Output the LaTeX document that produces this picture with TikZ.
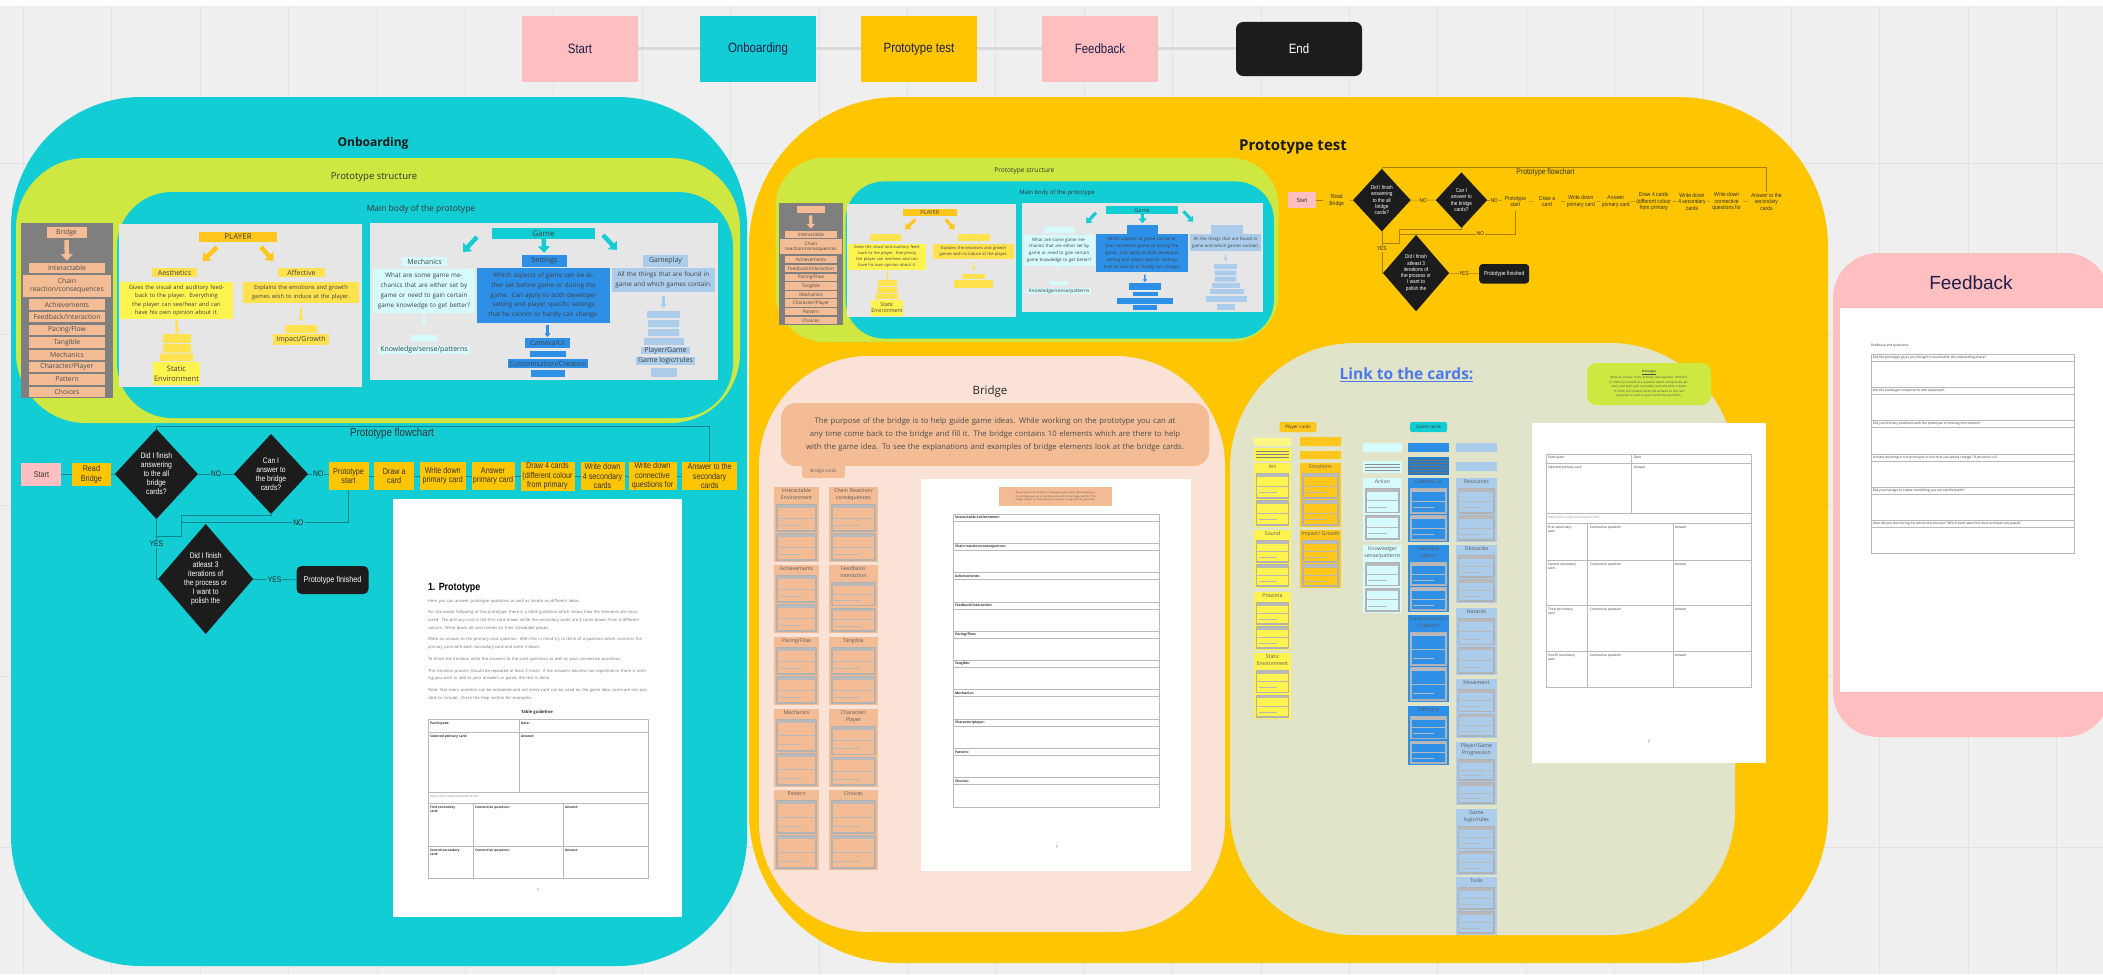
\documentclass[tikz,border=0pt]{standalone}
\usepackage{fontspec}
\setmainfont{Open Sans}
\newfontfamily\narrowfont[FakeStretch=0.85]{Liberation Sans}
\newfontfamily\arialfont{Liberation Sans}
\usetikzlibrary{arrows.meta,positioning,shapes.geometric}

\definecolor{canvas}{HTML}{EFEFEF}
\definecolor{gridline}{HTML}{E2E2E2}
\definecolor{navy}{HTML}{1E1E4C}
\definecolor{onbcyan}{HTML}{12CDD4}
\definecolor{testyel}{HTML}{FFC600}
\definecolor{startpink}{HTML}{FFBFC0}
\definecolor{endblack}{HTML}{1C1C1C}
\definecolor{lime}{HTML}{CEE741}
\definecolor{panelgray}{HTML}{E6E6E6}
\definecolor{bridgegray}{HTML}{7F7F7F}
\definecolor{salmon}{HTML}{F3BC95}
\definecolor{plgold}{HTML}{FFC61C}
\definecolor{pllabel}{HTML}{FFE24D}
\definecolor{plyellow}{HTML}{FFF44F}
\definecolor{mechcyan}{HTML}{D6FBFD}
\definecolor{setblue}{HTML}{2E8FE6}
\definecolor{playblue}{HTML}{ABCDEB}
\definecolor{peach}{HTML}{FAE3D6}
\definecolor{olive}{HTML}{E1E4C8}
\definecolor{linkblue}{HTML}{4C78EE}
\definecolor{txtdark}{HTML}{3A3A3A}

\newcommand\fs[2]{\fontsize{#1}{#2}\selectfont}
\newif\ifshowlbl
\showlbltrue
\newcommand\lbl[1]{\ifshowlbl#1\else\phantom{#1}\fi}
\def\sfac{1}

\tikzset{
  every node/.style={inner sep=0pt, outer sep=0pt, text=txtdark},
  legendbox/.style={fill=#1, text=navy, minimum width=116, minimum height=66, font=\narrowfont\fs{13.5}{16}},
  legendline/.style={draw=black!15, line width=3},
  rtitle/.style={font=\bfseries\fs{12}{14}, text=black!90},
  stitle/.style={font=\fs{9.5}{11}, text=black!80},
  item/.style={fill=salmon, minimum width=76, minimum height=10.5, font=\fs{6.8}{8}, text=black!70, align=center},
  tag/.style={fill=#1, align=center, font=\fs{7}{8.5}, text=black!75},
  desc/.style={fill=#1, align=center, font=\fs{5.8}{8.6}, text=black!75},
  fat/.style={draw=#1, line width={4.5*\sfac}, -{Triangle[width=0pt 2.6, length=0pt 1.5]}},
  thin/.style={draw=#1, line width={2.2*\sfac}, -{Triangle[width=0pt 2.6, length=0pt 1.6]}},
  fbox/.style={fill=testyel, align=center, font=\narrowfont\fs{8.5}{9.5}, text=black!80},
  decide/.style={diamond, fill=endblack},
  dtext/.style={text=white, align=center, font=\narrowfont\fs{8}{9}},
  flowtitle/.style={font=\narrowfont\fs{11.5}{13}, text=black!80},
  flowline/.style={draw=#1!65!black, line width={0.8*\sfac}},
  flowlbl/.style={fill=#1, inner sep=1pt, font=\narrowfont\fs{8}{9}, text=black!85},
  cardlbl/.style={anchor=north, align=center, font=\fs{5.2}{7}, text=black!65},
  tbl/.style={draw=gray!55, line width=0.8},
  cell/.style={anchor=north west, font=\fs{3.3}{4.2}, text=black!80, align=left},
}

% small document sketch inside a card
\newcommand\minidoc[5]{%
  \pgfmathsetmacro\mxa{#1}\pgfmathsetmacro\mya{#2}%
  \pgfmathsetmacro\mxb{#3}\pgfmathsetmacro\myb{#4}%
  \pgfmathsetmacro\mym{(\mya+\myb)/2}%
  \pgfmathsetmacro\myl{\mya+(\myb-\mya)*0.78}%
  \pgfmathsetmacro\mxl{\mxa+(\mxb-\mxa)*0.65}%
  \draw[gray!60, line width=1.1, fill=#5] (\mxa,\mya) rectangle (\mxb,\myb);
  \fill[gray!55] (\mxa,\mya) rectangle (\mxb,\mya+2.6);
  \draw[gray!55, line width=0.7] (\mxa,\mym) -- (\mxb,\mym);
  \draw[gray!55, line width=0.7] (\mxa+2,\myl) -- (\mxl,\myl);
}

% name, x1, y1, x2, y2, fill, label, label height
\newcommand\card[8]{%
  \fill[#6] (#2,#3) rectangle (#4,#5);
  \pgfmathsetmacro\cw{#4-#2-2}%
  \node[cardlbl, text width=\cw pt] (#1) at ({(#2+#4)/2},#3+1.5) {#7};
  \pgfmathsetmacro\ca{#3+#8}\pgfmathsetmacro\cb{#5-2}\pgfmathsetmacro\cm{(\ca+\cb)/2}%
  \minidoc{#2+3}{\ca}{#4-3}{\cm-1.5}{#6}%
  \minidoc{#2+3}{\cm+1.5}{#4-3}{\cb}{#6}%
}

% the structure block (drawn in onboarding coordinates)
\newcommand\protostructure[1]{%
  \fill[lime, rounded corners={70*\sfac}] (16,158) rectangle (740,423);
  \node[stitle] (#1title) at (374,177) {Prototype structure};
  \fill[onbcyan, rounded corners={55*\sfac}] (117,192) rectangle (733,418);
  \node[stitle, font=\fs{8.5}{10}] (#1maintitle) at (421,209) {Main body of the prototype};
  % bridge column
  \fill[bridgegray] (21,223) rectangle (113,398);
  \node[item, minimum width=40, minimum height=11] (#1bridge) at (66.5,232.5) {\lbl{Bridge}};
  \node[item, minimum width=88, minimum height=22] (#1chain) at (67,286) {Chain\\reaction/consequences};
  \foreach \nm/\txt/\y in {interact/Interactable/268, achieve/Achievements/304.5,
      feed/{Feedback/Interaction}/317, pacing/{Pacing/Flow}/330, tangible/Tangible/342.5,
      mech/Mechanics/355, char/{Character/Player}/367, pattern/Pattern/379.5, choices/Choices/392}
    \node[item] (#1\nm) at (67,\y) {\txt};
  \draw[fat=salmon, shorten <=2, shorten >=2] (#1bridge) -- (#1interact);
  % player panel
  \fill[panelgray] (119,224) rectangle (362,387);
  \node[tag=plgold, minimum width=78, minimum height=10, font=\fs{8}{9}] (#1player) at (238,237) {PLAYER};
  \node[tag=pllabel, minimum width=45, minimum height=9] (#1aesth) at (174.5,272.5) {\lbl{Aesthetics}};
  \node[desc=plyellow, text width=108pt, minimum width=113, minimum height=37] (#1aesthd) at (176.5,300.5)
    {Gives the visual and auditory feedback to the player. Everything the player can see/hear and can have his own opinion about it.};
  \node[tag=pllabel, minimum width=47, minimum height=9] (#1affect) at (301.5,272.5) {\lbl{Affective}};
  \node[desc=pllabel, text width=112pt, minimum width=116, minimum height=21] (#1affectd) at (301,292.5)
    {Explains the emotions and growth games wish to induce at the player.};
  \draw[fat=plgold] ([shift={(18,5)}]#1player.south west) -- ([shift={(28,-7)}]#1aesth.north);
  \draw[fat=plgold] ([shift={(-16,5)}]#1player.south east) -- ([shift={(-28,-7)}]#1affect.north);
  \node[fill=pllabel, minimum width=28, minimum height=8.5] (#1stack) at (177,338.5) {};
  \fill[pllabel] (163,344) rectangle (191,352.5) (160,353.5) rectangle (193,361);
  \node[tag=plyellow, minimum width=47, minimum height=23, font=\fs{7.5}{10}] (#1static) at (176.5,373.5) {Static\\Environment};
  \draw[thin=pllabel, shorten <=1, shorten >=1] (#1aesthd) -- (#1stack);
  \node[fill=pllabel, minimum width=32, minimum height=8] (#1impbar) at (301,329) {};
  \node[tag=pllabel, minimum width=56, minimum height=11] (#1impact) at (301,339.5) {\lbl{Impact/Growth}};
  \draw[thin=pllabel, shorten <=4, shorten >=4] (#1affectd) -- (#1impbar);
  % game panel
  \fill[panelgray] (370,223) rectangle (718,380);
  \node[tag=onbcyan, minimum width=103, minimum height=11, font=\fs{8}{9}] (#1game) at (543.5,233.5) {Game};
  \node[tag=mechcyan, minimum width=45, minimum height=9] (#1mechl) at (424.5,261.5) {\lbl{Mechanics}};
  \node[desc=mechcyan, text width=100pt, minimum width=102, minimum height=44, font=\fs{6.3}{9.8}] (#1mechd) at (424,291)
    {What are some game mechanics that are either set by game or need to gain certain game knowledge to get better?};
  \node[tag=setblue, minimum width=45, minimum height=12] (#1set) at (544.5,261) {\lbl{Settings}};
  \node[desc=setblue, text width=130pt, minimum width=133, minimum height=55, font=\fs{6.3}{9.8}] (#1setd) at (543.5,295.5)
    {Which aspects of game can be either set before game or during the game. Can apply to both developer setting and player specific settings that he cannot or hardly can change.};
  \node[tag=playblue, minimum width=45, minimum height=12] (#1gplay) at (665.5,261) {\lbl{Gameplay}};
  \node[desc=playblue, text width=100pt, minimum width=103, minimum height=24, font=\fs{6.3}{9.8}] (#1gplayd) at (663.5,280)
    {All the things that are found in game and which games contain.};
  \draw[fat=onbcyan] ([shift={(-15,3.5)}]#1game.west) -- ([shift={(38.5,-5)}]#1mechl.north);
  \draw[fat=onbcyan, shorten >=2] (#1game) -- (#1set);
  \draw[fat=onbcyan] ([shift={(8,1.5)}]#1game.east) -- ([shift={(-48.5,-5)}]#1gplay.north);
  \node[fill=mechcyan, minimum width=26, minimum height=6] (#1mechbar) at (424,338) {};
  \node[tag=mechcyan, minimum width=92, minimum height=8] (#1know) at (424,350) {Knowledge/sense/patterns};
  \draw[thin=mechcyan, shorten <=3, shorten >=10] (#1mechd) -- (#1mechbar);
  \node[tag=setblue, minimum width=45, minimum height=10] (#1cam) at (547.5,343) {\lbl{Camera/UI}};
  \fill[setblue] (530,351) rectangle (566,357);
  \node[tag=setblue, minimum width=80, minimum height=9] (#1custom) at (548,363.5) {\lbl{Customisation/Creation}};
  \fill[setblue] (531,370) rectangle (565,377);
  \draw[thin=setblue, shorten <=2, shorten >=1] (#1setd.south -| #1cam) -- (#1cam);
  \node[fill=playblue, minimum width=33, minimum height=7] (#1gbar) at (663.5,314.5) {};
  \fill[playblue] (648,320) rectangle (679,327) (648,329) rectangle (679,336) (644,338) rectangle (684,345);
  \node[tag=playblue, minimum width=49, minimum height=7] (#1pgame) at (665.5,350.5) {\lbl{Player/Game}};
  \node[tag=playblue, minimum width=59, minimum height=8] (#1logic) at (665.5,361) {\lbl{Game logic/rules}};
  \fill[playblue] (651,368) rectangle (677,377);
  \draw[thin=playblue, shorten <=4, shorten >=3] (#1gplayd) -- (#1gbar);
}

% the flowchart (drawn in onboarding coordinates)
\newcommand\protoflow[2]{%
  \node[flowtitle] (#1title) at (392,434) {Prototype flowchart};
  \node[fbox, fill=startpink, minimum width=40, minimum height=23] (#1start) at (41.4,474.5) {Start};
  \node[fbox, minimum width=39, minimum height=23, right=10.5pt of #1start] (#1read) {Read\\Bridge};
  \node[decide, minimum width=83, minimum height=90,
    label={[dtext]center:{Did I finish\\answering\\to the all\\bridge\\cards?}}] (#1qa) at (156.4,474) {};
  \node[decide, minimum width=74, minimum height=80,
    label={[dtext]center:{Can I\\answer to\\the bridge\\cards?}}] (#1qb) at (271,474) {};
  \node[fbox, minimum width=40, minimum height=28] (#1pstart) at (348.5,476) {Prototype\\start};
  \node[fbox, minimum width=40, minimum height=28, right=5.7pt of #1pstart] (#1draw) {Draw a\\card};
  \node[fbox, minimum width=45.5, minimum height=28, right=5.8pt of #1draw] (#1wprim) {Write down\\primary card};
  \node[fbox, minimum width=43, minimum height=28, right=6pt of #1wprim] (#1aprim) {Answer\\primary card};
  \node[fbox, minimum width=54, minimum height=29, right=6pt of #1aprim] (#1drawf) {Draw 4 cards\\(different colour\\from primary};
  \node[fbox, minimum width=44, minimum height=28, right=6pt of #1drawf] (#1wsec) {Write down\\4 secondary\\cards};
  \node[fbox, minimum width=48, minimum height=28, right=4pt of #1wsec] (#1wcon) {Write down\\connective\\questions for};
  \node[fbox, minimum width=55, minimum height=28, right=5.6pt of #1wcon] (#1ans) {Answer to the\\secondary\\cards};
  \node[decide, minimum width=95, minimum height=110,
    label={[dtext]center:{Did I finish\\atleast 3\\iterations of\\the process or\\I want to\\polish the}}] (#1qc) at (205.7,579) {};
  \node[fbox, fill=endblack, text=white, rounded corners={5*\sfac}, minimum width=72, minimum height=28] (#1done) at (332.5,580) {Prototype finished};
  % connectors
  \draw[flowline=#2] (#1start) -- (#1read);
  \draw[flowline=#2] (#1read) -- (#1qa);
  \draw[flowline=#2] (#1qa) -- node[flowlbl=#2] (#1noa) {NO} (#1qb);
  \draw[flowline=#2] (#1qb.east) -- node[flowlbl=#2] (#1nob) {NO} (#1qb.east -| #1pstart.west);
  \foreach \a/\b in {pstart/draw, draw/wprim, wprim/aprim, aprim/drawf, drawf/wsec, wsec/wcon, wcon/ans}
    \draw[flowline=#2] (#1\a) -- (#1\b);
  \draw[flowline=#2] (#1ans.north) |- ([yshift=3]#1qa.north) -- (#1qa.north);
  \draw[flowline=#2] (#1qa.south) |- node[flowlbl=#2, pos=0.21] (#1yesa) {YES} (#1qc.west);
  \draw[flowline=#2] (#1qc) -- node[flowlbl=#2] (#1yesb) {YES} (#1done);
  \coordinate (#1j) at (181.5,536);
  \draw[flowline=#2] (#1qb.south) -- ++(0,1.5) -| (#1j) -- (#1j -| #1qa.south);
  \draw[flowline=#2] (#1pstart.south) |- node[flowlbl=#2, pos=0.65] (#1noc) {NO} (#1j |- 0,522.7);
}

\begin{document}
\begin{tikzpicture}[x=1pt, y=-1pt]
  \useasboundingbox (0,0) rectangle (2103,974);
  % canvas
  \fill[canvas] (0,0) rectangle (2103,974);
  \fill[white] (0,0) rectangle (2103,6);
  \foreach \i in {0,...,23}
    \draw[gridline, line width=1] ({23.4+88.4*\i},6) -- ({23.4+88.4*\i},974);
  \foreach \y in {163,334,505,676,847}
    \draw[gridline, line width=1] (0,\y) -- (2103,\y);

  % legend
  \node[legendbox=startpink] (lstart) at (580,49) {Start};
  \node[legendbox=onbcyan, right=62pt of lstart] (lonb) {Onboarding};
  \node[legendbox=testyel, right=45pt of lonb] (ltest) {Prototype test};
  \node[legendbox=startpink, right=65pt of ltest] (lfeed) {Feedback};
  \node[legendbox=endblack, text=white, rounded corners=7, minimum width=126, minimum height=54, right=78pt of lfeed] (lend) {End};
  \draw[legendline] (lstart) -- (lonb) (lonb) -- (ltest) (ltest) -- (lfeed) (lfeed) -- (lend);

  % ---------------- onboarding
  \fill[onbcyan, rounded corners=130] (11,97) rectangle (747,966);
  \node[rtitle] (onbtitle) at (373,143) {Onboarding};
  \protostructure{o}
  \protoflow{f}{onbcyan}
  % prototype sheet
  \fill[white] (393,499) rectangle (682,917);
  \node[anchor=west, font=\narrowfont\bfseries\fs{10.5}{12}, text=black] (dochead) at (428,588) {1. Prototype};
  \node[anchor=north west, text width=220pt, align=left, font=\fs{4.1}{7.6}, text=black!55] (docbody) at (428,599)
    {\setlength\parskip{4.2pt}Here you can answer prototype questions as well as iterate on different ideas.\par
     For the easier following of the prototype, there is a table guideline which shows how the elements are structured. The primary card is the first card drawn while the secondary cards are 4 cards drawn from 4 different colours. Write down all card names on their scheduled places.\par
     Write an answer to the primary card question. With this in mind try to think of a question which connects the primary card with each secondary card and write it down.\par
     To finish the iteration write the answers to the card questions as well as your connective questions.\par
     This iteration process should be repeated at least 3 times. If the answers become too repetitive or there is nothing you wish to add to your answers or game, the test is done.\par
     Note: Not every question can be answered and not every card can be used on the game idea, some are not possible to include. Check the help section for examples.};
  \node[font=\bfseries\fs{4.2}{5}, text=black!80] (docguide) at (537,712) {Table guideline};
  \draw[tbl] (428,719) rectangle (648,878);
  \draw[tbl] (428,732) -- (648,732) (428,792) -- (648,792) (428,803) -- (648,803) (428,846) -- (648,846);
  \draw[tbl] (519,719) -- (519,792) (473,803) -- (473,878) (563,803) -- (563,878);
  \node[cell] (oc1) at (430,722) {\bfseries Participant:};
  \node[cell] (oc2) at (521,722) {\bfseries Date:};
  \node[cell] (oc3) at (430,735) {\bfseries Selected primary card:};
  \node[cell] (oc4) at (521,735) {\bfseries Answer:};
  \node[cell, text=black!45] (oc5) at (430,795) {\itshape How is this card connected to the:};
  \node[cell] (oc6) at (430,806) {\bfseries First secondary\\\bfseries card:};
  \node[cell] (oc7) at (475,806) {\bfseries Connective question:};
  \node[cell] (oc8) at (565,806) {\bfseries Answer:};
  \node[cell] (oc9) at (430,849) {\bfseries Second secondary\\\bfseries card:};
  \node[cell] (oc10) at (475,849) {\bfseries Connective question:};
  \node[cell] (oc11) at (565,849) {\bfseries Answer:};
  \node[font=\fs{4}{5}] (ocpage) at (538,890) {1};

  % ---------------- prototype test
  \fill[testyel, rounded corners=150] (749,97) rectangle (1828,963);
  \node[rtitle, font=\bfseries\fs{15}{18}] (testtitle) at (1293,147) {Prototype test};
  \begin{scope}[shift={(764.4,48)}, scale=0.695, transform shape]
    \def\sfac{0.695}\showlblfalse
    \protostructure{t}
  \end{scope}
  \begin{scope}[shift={(1273.1,-129.3)}, scale=0.695, transform shape]
    \def\sfac{0.695}
    \protoflow{g}{testyel}
  \end{scope}

  % bridge
  \fill[peach, rounded corners=110] (759,356) rectangle (1225,932);
  \node[font=\fs{11.5}{13}, text=black!85] (bridgetitle) at (990,392) {Bridge};
  \fill[salmon, rounded corners=3] (802,458) rectangle (845,478);
  \node[font=\fs{4.5}{5}, text=black!60] (bridgetab) at (823.5,471) {Bridge cards};
  \node[fill=salmon, rounded corners=15, minimum width=428, minimum height=63, text width=420pt, align=center,
    font=\fs{7.7}{13}, text=black!70] (purpose) at (995,434.5)
    {The purpose of the bridge is to help guide game ideas. While working on the prototype you can at any time come back to the bridge and fill it. The bridge contains 10 elements which are there to help with the game idea. To see the explanations and examples of bridge elements look at the bridge cards.};
  \card{bca}{774}{487}{819}{562}{salmon}{Interactable\\Environment}{18}
  \card{bcb}{829}{487}{878}{562}{salmon}{Chain Reaction/\\consequences}{18}
  \card{bcc}{774}{565}{819}{633}{salmon}{Achievements}{11}
  \card{bcd}{829}{565}{878}{633}{salmon}{Feedback/\\Interaction}{18}
  \card{bce}{774}{637}{819}{705}{salmon}{Pacing/Flow}{11}
  \card{bcf}{829}{637}{878}{705}{salmon}{Tangible}{11}
  \card{bcg}{774}{709}{819}{787}{salmon}{Mechanics}{11}
  \card{bch}{829}{709}{878}{787}{salmon}{Character/\\Player}{18}
  \card{bci}{774}{790}{819}{870}{salmon}{Pattern}{11}
  \card{bcj}{829}{790}{878}{870}{salmon}{Choices}{11}
  % bridge sheet
  \fill[white] (921,479) rectangle (1191,871);
  \node[fill=salmon, minimum width=113, minimum height=19, text width=110pt, align=center, font=\fs{2.3}{3.5}, text=black!70] (bnote) at (1055.5,496.5)
    {The purpose of the bridge is to help guide game ideas. While working on the prototype you can at any time come back to the bridge and fill it. The bridge contains 10 elements which are there to help with the game idea.};
  \foreach \t [count=\i from 0] in {Interactable environment:, Chain reaction/consequences:, Achievements:, Feedback/Interaction:,
      Pacing/Flow:, Tangible:, Mechanics:, Character/player:, Pattern:, Choices:} {
    \pgfmathsetmacro\yy{514+29.3*\i}
    \draw[tbl] (953,\yy) rectangle (1159,\yy+7);
    \draw[tbl] (953,\yy+7) rectangle (1159,\yy+29.3);
    \node[cell, anchor=west, font=\bfseries\fs{3.4}{4}] (bt\i) at (955,\yy+3.5) {\t};
  }
  \node[font=\fs{4}{5}] (bpage) at (1057,847) {1};

  % link to the cards
  \fill[olive, rounded corners=125] (1230,343) rectangle (1735,935);
  \node[font=\bfseries\fs{15.5}{18}, text=linkblue] (linktitle) at (1406.5,375) {\underline{Link to the cards:}};
  \node[fill=lime, rounded corners=9, minimum width=124, minimum height=42, text width=118pt, align=center,
    font=\fs{2.9}{4.6}, text=black!70] (linknote) at (1649,384)
    {\textbf{\underline{Prototype}}\\Write an answer to the primary card question. With this in mind try to think of a question which connects the primary card with each secondary card and write it down.\\To finish the iteration write the answers to the card questions as well as your connective questions.};
  \node[fill=plgold, rounded corners=2, minimum width=37, minimum height=10, font=\fs{4.5}{5}] (playertab) at (1298,427) {Player cards};
  \node[fill=onbcyan, rounded corners=2, minimum width=37, minimum height=10, font=\fs{4.5}{5}] (gametab) at (1428.5,427) {Game cards};
  % column heads
  \fill[plyellow!70] (1253.7,438) rectangle (1291.2,446);
  \fill[plyellow] (1253.7,448) rectangle (1291.2,461);
  \foreach \y in {451.5,454.5,457.5} \draw[black!50, line width=0.6] (1256,\y) -- (1289,\y);
  \fill[plgold] (1300,437) rectangle (1341,446) (1300,451) rectangle (1341,459);
  \fill[mechcyan] (1363,443) rectangle (1402,452) (1363,461) rectangle (1402,473);
  \foreach \y in {464.5,467.5,470.5} \draw[black!45, line width=0.6] (1365,\y) -- (1400,\y);
  \fill[setblue] (1408,443) rectangle (1449,452);
  \fill[setblue!85!black] (1408,457) rectangle (1449,475);
  \foreach \y in {460,463,466,469,472} \draw[black!55, line width=0.6] (1410,\y) -- (1447,\y);
  \fill[playblue] (1455.8,443) rectangle (1497,452) (1455.8,462) rectangle (1497,471);
  % player cards
  \card{pca}{1253.7}{463}{1291.2}{527}{plyellow}{Art}{11}
  \card{pcb}{1253.7}{530}{1291.2}{588}{plyellow}{Sound}{11}
  \card{pcc}{1253.7}{592}{1291.2}{650}{plyellow}{Proxima}{11}
  \card{pcd}{1253.7}{653}{1291.2}{719}{plyellow}{Static\\Environment}{18}
  \card{pce}{1300}{463}{1341}{527}{plgold}{Emotions}{11}
  \card{pcf}{1300}{530}{1341}{588}{plgold}{Impact/ Growth}{11}
  % game cards
  \card{gca}{1363}{478}{1402}{541}{mechcyan}{Action}{11}
  \card{gcb}{1363}{545}{1402}{613}{mechcyan}{Knowledge/\\sense/patterns}{18}
  \card{gcc}{1408}{478}{1449}{542}{setblue}{Camera/ UI}{11}
  \card{gcd}{1408}{545}{1449}{612}{setblue}{Fail/Save\\option}{18}
  \card{gce}{1408}{615}{1449}{702}{setblue}{Customisation/\\Creation}{18}
  \card{gcf}{1408}{706}{1449}{765}{setblue}{Difficulty}{11}
  \card{gcg}{1455.8}{478}{1497}{542}{playblue}{Resources}{11}
  \card{gch}{1455.8}{545}{1497}{603}{playblue}{Obstacles}{11}
  \card{gci}{1455.8}{608}{1497}{675}{playblue}{Hazards}{11}
  \card{gcj}{1455.8}{679}{1497}{738}{playblue}{Movement}{11}
  \card{gck}{1455.8}{742}{1497}{805}{playblue}{Player/Game\\Progression}{18}
  \card{gcl}{1455.8}{809}{1497}{875}{playblue}{Game\\logic/rules}{18}
  \card{gcm}{1455.8}{877}{1497}{935}{playblue}{Tools}{11}
  % iteration sheet
  \fill[white] (1532,423) rectangle (1766,763);
  \draw[tbl] (1546.5,454) rectangle (1751.6,687);
  \draw[tbl] (1546.5,463) -- (1751.6,463) (1546.5,513) -- (1751.6,513) (1546.5,523) -- (1751.6,523)
             (1546.5,560) -- (1751.6,560) (1546.5,605) -- (1751.6,605) (1546.5,651) -- (1751.6,651);
  \draw[tbl] (1631.8,454) -- (1631.8,513) (1587.8,523) -- (1587.8,687) (1673.2,523) -- (1673.2,687);
  \node[cell] (lc1) at (1548,456) {Participant};
  \node[cell] (lc2) at (1634,456) {Date};
  \node[cell] (lc3) at (1548,466) {Selected primary card};
  \node[cell] (lc4) at (1634,466) {Answer};
  \node[cell, text=black!45] (lc5) at (1548,515.5) {How is this card connected to the:};
  \foreach \w/\y [count=\i] in {First/526, Second/563, Third/608, Fourth/654} {
    \node[cell] (lr\i) at (1548,\y) {\w{} secondary\\card};
    \node[cell] (lq\i) at (1590,\y) {Connective question};
    \node[cell] (la\i) at (1675,\y) {Answer};
  }
  \node[font=\fs{4}{5}] (lpage) at (1649,742) {1};

  % ---------------- feedback
  \fill[startpink, rounded corners=45] (1833,253) rectangle (2110,737);
  \node[font=\arialfont\fs{19}{22}, text=navy] (feedtitle) at (1971,283) {Feedback};
  \fill[white] (1840,308) rectangle (2110,692);
  \node[cell, anchor=west] (fqhead) at (1871,346) {Feedback and questions:};
  \foreach \q [count=\i from 0] in {{Did the prototype go as you thought it would after the onboarding phase?},
      {Are the prototype components well explained?},
      {Did you find any problems with the prototype or missing information?},
      {Is there anything in the prototype or tool that you would change? If yes what is it?},
      {Did you manage to create something you are satisfied with?},
      {How did you feel during the whole test process? Which parts were the most and least enjoyable?}} {
    \pgfmathsetmacro\yy{354+33.3*\i}
    \draw[tbl] (1871,\yy) rectangle (2074,\yy+7);
    \draw[tbl] (1871,\yy+7) rectangle (2074,\yy+33.3);
    \node[cell, anchor=west] (fq\i) at (1873,\yy+3.5) {\q};
  }
\end{tikzpicture}
\end{document}
